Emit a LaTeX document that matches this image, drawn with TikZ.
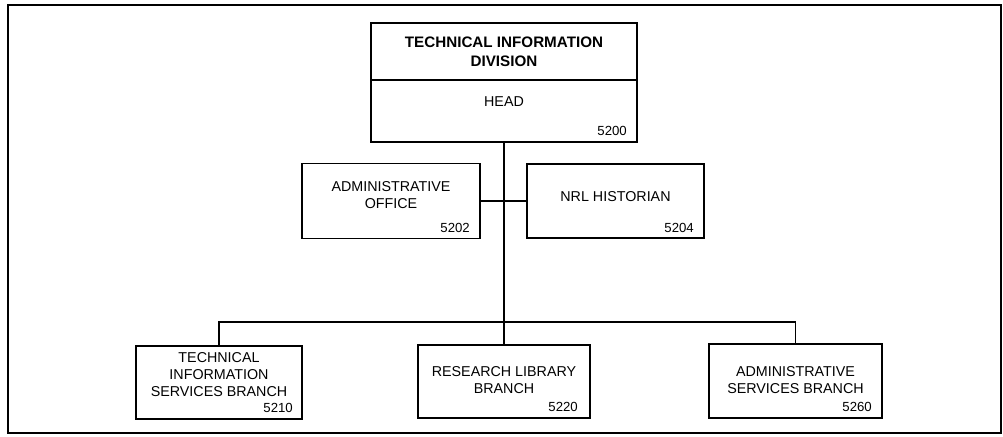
\documentclass[tikz,border=0pt]{standalone}
\usepackage{fontspec}
\setmainfont{Liberation Sans}
\usetikzlibrary{positioning}

\begin{document}
\begin{tikzpicture}[
  x=1pt, y=-1pt,
  unit/.style={rectangle, draw=black, line width=1.3pt, inner sep=0pt,
    outer sep=0pt},
  unittext/.style={align=center, inner sep=0pt,
    font=\fontsize{14.3}{17}\selectfont},
  titletext/.style={align=center, inner sep=0pt,
    font=\fontsize{15.2}{19.3}\selectfont\bfseries},
  code/.style={anchor=base east, inner sep=0pt,
    font=\fontsize{13.2}{15}\selectfont},
  link/.style={draw=black, line width=1.2pt},
  frame/.style={draw=black, line width=2pt},
]
\useasboundingbox (0,0) rectangle (1003,436);
\draw[frame] (8,5.5) rectangle (1001,432.5);

% === Division: title + head ===
\node[unit, minimum width=266pt, minimum height=57pt] (division) at (504,51.5) {};
\node[titletext] (division-t) at ([yshift=-0.5pt]division.center)
  {TECHNICAL INFORMATION\\DIVISION};
\node[unit, minimum width=266pt, minimum height=62pt, below=0pt of division] (head) {};
\node[unittext] (head-t) at ([yshift=9pt]head.center) {HEAD};
\node[code] (head-n) at ([xshift=-10pt,yshift=7pt]head.south east) {5200};

% === Staff offices ===
\node[unit, minimum width=178pt, minimum height=75pt] (admin) at (391,201) {};
\node[unittext] (admin-t) at ([yshift=5.5pt]admin.center) {ADMINISTRATIVE\\OFFICE};
\node[code] (admin-n) at ([xshift=-10pt,yshift=6.5pt]admin.south east) {5202};

\node[unit, minimum width=177pt, minimum height=74pt] (historian) at (615.5,201) {};
\node[unittext] (historian-t) at ([yshift=4.5pt]historian.center) {NRL HISTORIAN};
\node[code] (historian-n) at ([xshift=-10pt,yshift=5.5pt]historian.south east) {5204};

% === Branches ===
\node[unit, minimum width=166pt, minimum height=73pt] (tis) at (219,382.5) {};
\node[unittext] (tis-t) at ([yshift=7.5pt]tis.center)
  {TECHNICAL\\INFORMATION\\SERVICES BRANCH};
\node[code] (tis-n) at ([xshift=-9pt,yshift=7pt]tis.south east) {5210};

\node[unit, minimum width=172pt, minimum height=73pt] (library) at (504,381.5) {};
\node[unittext] (library-t) at ([yshift=1pt]library.center)
  {RESEARCH LIBRARY\\BRANCH};
\node[code] (library-n) at ([xshift=-12pt,yshift=7pt]library.south east) {5220};

\node[unit, minimum width=173pt, minimum height=74pt] (services) at (795.5,381) {};
\node[unittext] (services-t) at ([yshift=0.5pt]services.center)
  {ADMINISTRATIVE\\SERVICES BRANCH};
\node[code] (services-n) at ([xshift=-10pt,yshift=7pt]services.south east) {5260};

% === Connectors ===
\coordinate (bus) at (504,322);
\draw[link] (head.south) -- (library.north);
\draw[link] (admin.east) -- (historian.west);
\draw[link] (tis.north) |- (bus) -| (services.north);

\end{tikzpicture}
\end{document}
